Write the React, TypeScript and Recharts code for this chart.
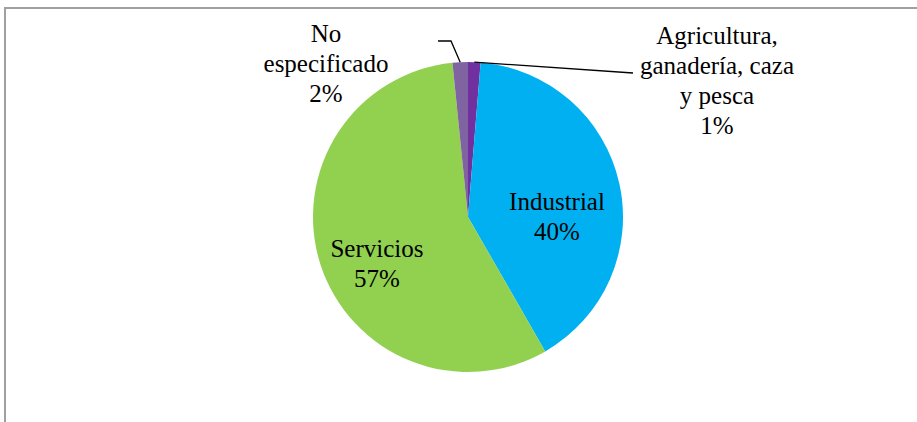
import React from 'react';
import { PieChart, Pie, Cell } from 'recharts';

const sectors = ['Agricultura, ganadería, caza y pesca', 'Industrial', 'Servicios', 'No especificado'];
const shares = [1.3, 40.4, 56.7, 1.6];
const labelText = [['Agricultura,', 'ganadería, caza', 'y pesca'], ['Industrial'], ['Servicios'], ['No', 'especificado']];
const colors = ['#7030A0', '#00B0F0', '#92D050', '#8064A2'];

const data = sectors.map((name, i) => ({ name, value: shares[i] }));

// where each label sits, relative to the pie centre
const labelLayout: { dx: number; dy: number; leader?: number[][] }[] = [
  { dx: 249, dy: -173, leader: [[165, -144]] },
  { dx: 89, dy: -7 },
  { dx: -91, dy: 40 },
  { dx: -142, dy: -175, leader: [[-17, -176], [-30, -176]] },
];

const RAD = Math.PI / 180;
const serif = 'Liberation Serif, Times New Roman, DejaVu Serif, serif';

const renderLabel = (props: any) => {
  const { cx, cy, midAngle, outerRadius, percent, index } = props;
  const lay = labelLayout[index];
  const lines = [...labelText[index], `${Math.round(percent * 100)}%`];
  const sx = cx + outerRadius * Math.cos(-midAngle * RAD);
  const sy = cy + outerRadius * Math.sin(-midAngle * RAD);
  let path = '';
  if (lay.leader) {
    path = `M${sx},${sy}` + lay.leader.map(([x, y]) => `L${cx + x},${cy + y}`).join('');
  }
  return (
    <g key={`lbl-${index}`} className="slice-label">
      {path && <path d={path} stroke="#000" strokeWidth={1.3} fill="none" />}
      <text x={cx + lay.dx} y={cy + lay.dy} textAnchor="middle" fontSize={25} fill="#000">
        {lines.map((l, i) => (
          <tspan key={i} x={cx + lay.dx} dy={i === 0 ? 0 : 30}>
            {l}
          </tspan>
        ))}
      </text>
    </g>
  );
};

export default function App() {
  return (
    <div style={{ position: 'absolute', left: 0, top: 0, width: 917, height: 422, background: '#fff', overflow: 'hidden' }}>
      <style>{`.slice-label text, .slice-label tspan { font-family: ${serif} !important; }`}</style>
      <div
        style={{
          position: 'absolute',
          left: 4,
          top: 7,
          width: 930,
          height: 430,
          borderTop: '2px solid #a0a0a0',
          borderLeft: '2px solid #a0a0a0',
        }}
      />
      <PieChart
        width={917}
        height={422}
        margin={{ top: 0, right: 0, bottom: 0, left: 0 }}
        style={{ position: 'absolute', left: 0, top: 0 }}
      >
        <Pie
          data={data}
          dataKey="value"
          nameKey="name"
          cx={468}
          cy={217}
          outerRadius={155}
          startAngle={90}
          endAngle={-270}
          stroke="none"
          label={renderLabel}
          labelLine={false}
          isAnimationActive={false}
        >
          {data.map((d, i) => (
            <Cell key={d.name} fill={colors[i]} />
          ))}
        </Pie>
      </PieChart>
    </div>
  );
}
